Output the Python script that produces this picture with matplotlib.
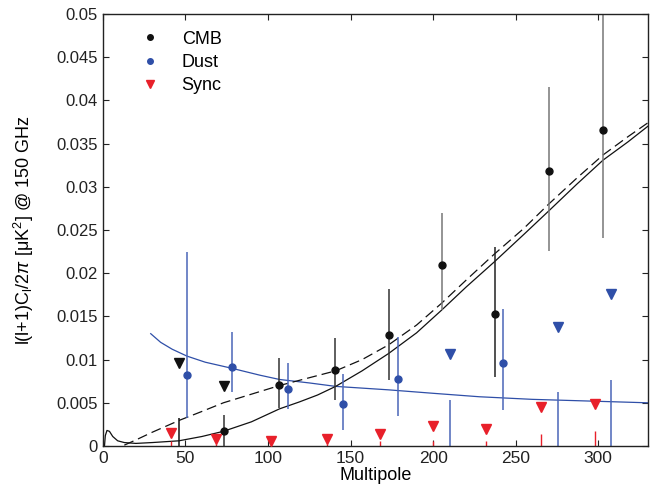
import matplotlib
matplotlib.use("Agg")
import matplotlib.pyplot as plt
from matplotlib.lines import Line2D

plt.rcParams['font.family'] = ['Liberation Sans', 'DejaVu Sans']
plt.rcParams['mathtext.fontset'] = 'custom'
plt.rcParams['mathtext.rm'] = 'Liberation Sans'
plt.rcParams['mathtext.it'] = 'Liberation Sans:italic'

# ---- data ----
cmb_l = [73.3, 106.7, 140.6, 173.3, 205.3, 237.2, 270.3, 303.0]
cmb_v = [0.0017, 0.0071, 0.0088, 0.0128, 0.0209, 0.0153, 0.0318, 0.0366]
cmb_lo = [0.0, 0.0044, 0.0053, 0.0076, 0.0157, 0.0080, 0.0226, 0.0241]
cmb_hi = [0.0036, 0.0102, 0.0125, 0.0182, 0.0270, 0.0230, 0.0415, 0.0520]

cmb_ul_l = [46.0, 73.3]
cmb_ul_v = [0.0096, 0.0070]
cmb_ul_bar = [0.0032, 0.0]

dust_l = [51.1, 78.4, 111.9, 145.6, 178.6, 242.2]
dust_v = [0.0082, 0.0091, 0.0066, 0.0049, 0.0078, 0.0096]
dust_lo = [0.0032, 0.0062, 0.0043, 0.0019, 0.0035, 0.0042]
dust_hi = [0.0224, 0.0132, 0.0096, 0.0083, 0.0126, 0.0159]

dust_ul_l = [210.3, 275.4, 308.0]
dust_ul_v = [0.0106, 0.0138, 0.0176]
dust_ul_bar = [0.0053, 0.0062, 0.0076]

sync_l = [41.0, 68.3, 101.8, 135.8, 168.0, 200.2, 232.0, 265.2, 298.0]
sync_v = [0.00154, 0.00078, 0.00058, 0.00078, 0.00140, 0.0023, 0.0020, 0.0045, 0.0049]
sync_bar = [0.0006, 0.0002, 0.0001, 0.0002, 0.0006, 0.0006, 0.0006, 0.0014, 0.0017]

solid_l = [1.0, 1.5, 2.5, 4.0, 6.0, 9.0, 13.0, 20, 30, 46, 60, 73, 90, 107, 119, 130, 141,
           157, 173, 190, 205, 220, 237, 255, 270, 287, 303, 318, 330]
solid_v = [0.0, 0.0012, 0.0018, 0.0017, 0.0011, 0.0006, 0.0004, 0.0003, 0.0004, 0.0006,
           0.0011, 0.0017, 0.0028, 0.0043, 0.0051, 0.0059, 0.0069, 0.0087, 0.0107, 0.0131,
           0.0157, 0.0184, 0.0213, 0.0245, 0.0272, 0.0303, 0.0331, 0.0352, 0.0370]

dash_l = [13, 20, 30, 46.7, 60, 73, 90, 107, 125, 141, 157, 173, 190, 205, 220, 237, 255,
          270, 287, 303, 318, 330]
dash_v = [0.0001, 0.0007, 0.0016, 0.0030, 0.0040, 0.0050, 0.0060, 0.0070, 0.0079, 0.0087,
          0.0100, 0.0117, 0.0140, 0.0165, 0.0192, 0.0222, 0.0252, 0.0280, 0.0310, 0.0337,
          0.0358, 0.0374]

dustmod_l = [29, 35, 42, 51, 62, 78, 95, 107, 125, 141, 173, 200, 228, 260, 295, 330]
dustmod_v = [0.0130, 0.0120, 0.0112, 0.0104, 0.0097, 0.0090, 0.0082, 0.0077, 0.0073, 0.0069,
             0.0065, 0.0061, 0.0057, 0.0054, 0.0052, 0.0050]

yticks = [0, 0.005, 0.01, 0.015, 0.02, 0.025, 0.03, 0.035, 0.04, 0.045, 0.05]
ytick_labels = ['0', '0.005', '0.01', '0.015', '0.02', '0.025', '0.03', '0.035', '0.04', '0.045', '0.05']
xticks = [0, 50, 100, 150, 200, 250, 300]

# ---- style ----
BLUE = '#2f4fa8'
BLUE_BAR = '#4a66b8'
RED = '#e8202a'
BLACK = '#111111'
cmb_bar_colors = ['#333333', '#333333', '#333333', '#333333', '#777777', '#222222', '#777777', '#777777']

fig = plt.figure(figsize=(6.55, 4.96), dpi=100)
ax = fig.add_axes([0.157, 0.1008, 0.832, 0.871])

ax.plot(dustmod_l, dustmod_v, color=BLUE, lw=0.9)
ax.plot(solid_l, solid_v, color=BLACK, lw=0.9)
ax.plot(dash_l, dash_v, color=BLACK, lw=0.9, dashes=(8, 4))

# error bars
ax.vlines(cmb_l, cmb_lo, cmb_hi, colors=cmb_bar_colors, lw=1.1)
ax.vlines(dust_l, dust_lo, dust_hi, colors=BLUE_BAR, lw=1.1)
ax.vlines(dust_ul_l, 0, dust_ul_bar, colors=BLUE_BAR, lw=1.1)
ax.vlines(cmb_ul_l, 0, cmb_ul_bar, colors=BLACK, lw=1.1)
ax.vlines(sync_l, 0, sync_bar, colors=RED, lw=1.0)

ax.plot(cmb_l, cmb_v, 'o', color=BLACK, ms=5, zorder=5)
ax.plot(dust_l, dust_v, 'o', color=BLUE, ms=5, zorder=5)
ax.plot(cmb_ul_l, cmb_ul_v, 'v', color=BLACK, ms=7, zorder=5)
ax.plot(dust_ul_l, dust_ul_v, 'v', color=BLUE, ms=7, zorder=5)
ax.plot(sync_l, sync_v, 'v', color=RED, ms=7, zorder=5)

ax.set_xlim(0, 330)
ax.set_ylim(0, 0.05)
ax.set_xticks(xticks)
ax.set_yticks(yticks)
ax.set_yticklabels(ytick_labels)
ax.tick_params(direction='in', top=True, right=True, length=4, width=0.8,
               colors='#222222')
ax.tick_params(axis='y', labelsize=12)
ax.tick_params(axis='x', labelsize=12.5)
for s in ax.spines.values():
    s.set_linewidth(1.0)
    s.set_color('#222222')

ax.set_xlabel('Multipole', fontsize=13, labelpad=1)
ax.set_ylabel(r'l(l+1)C$_\mathregular{l}$/2$\pi$ [μK$^\mathregular{2}$] @ 150 GHz',
              fontsize=13, labelpad=15)

handles = [Line2D([], [], ls='', marker='o', color=BLACK, ms=4),
           Line2D([], [], ls='', marker='o', color=BLUE, ms=4),
           Line2D([], [], ls='', marker='v', color=RED, ms=6)]
ax.legend(handles, ['CMB', 'Dust', 'Sync'], loc='upper left', frameon=False,
          fontsize=13, handletextpad=0.75, labelspacing=0.35,
          bbox_to_anchor=(0.027, 0.995), borderaxespad=0.4)

fig.savefig('out.png', dpi=100)
